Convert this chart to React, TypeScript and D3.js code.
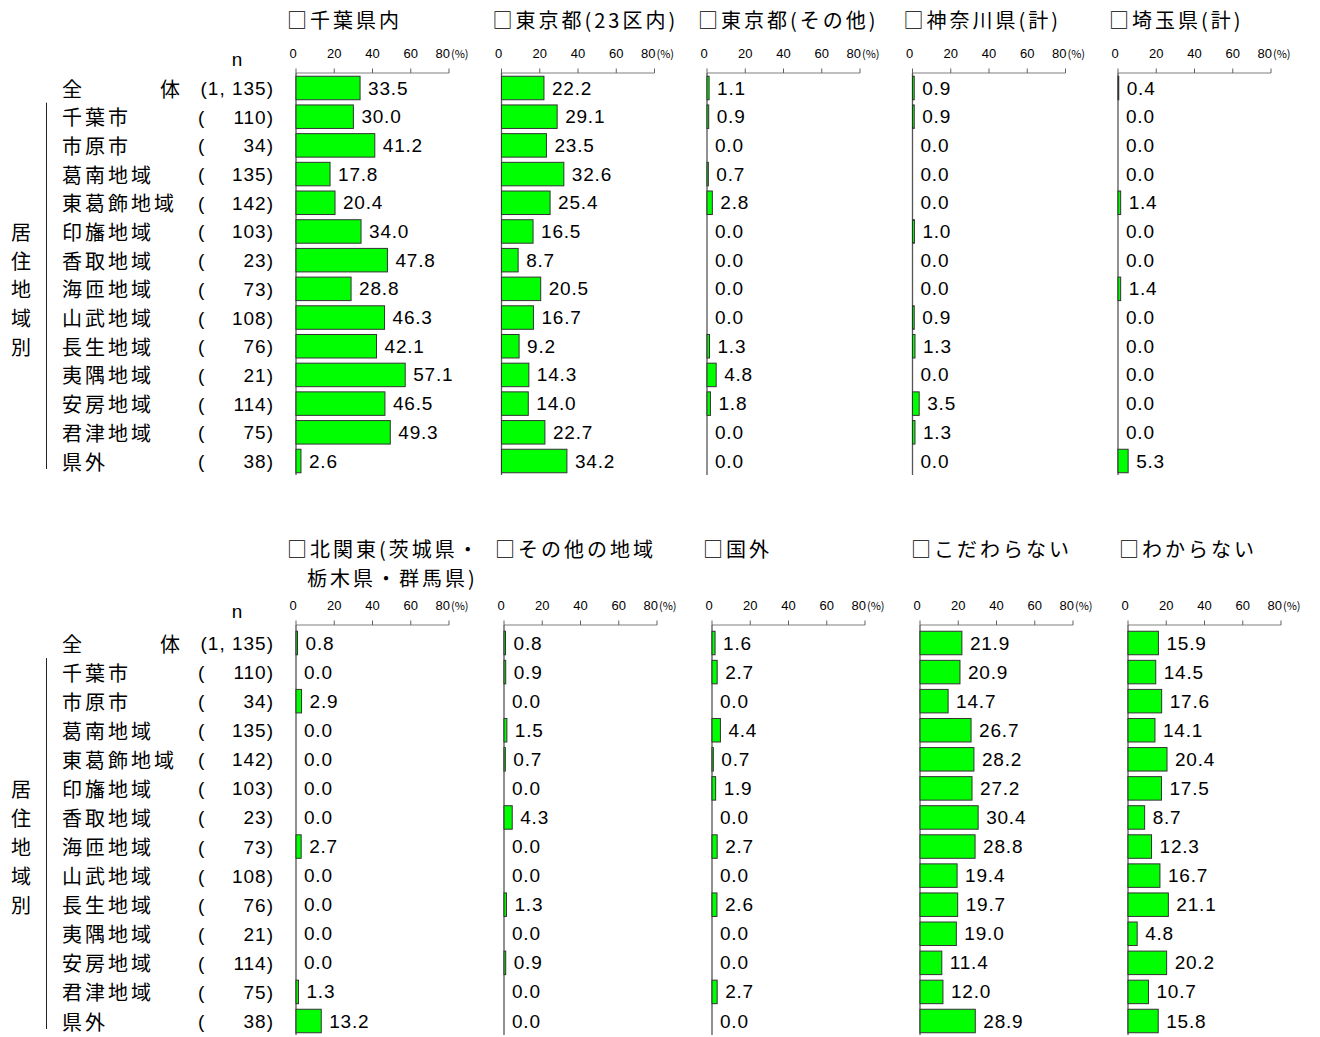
import React from "react";
import * as d3 from "d3";

const categories = ["全体", "千葉市", "市原市", "葛南地域", "東葛飾地域", "印旛地域", "香取地域", "海匝地域", "山武地域", "長生地域", "夷隅地域", "安房地域", "君津地域", "県外"];
const nLabels = ["1, 135", "110", "34", "135", "142", "103", "23", "73", "108", "76", "21", "114", "75", "38"];
const groupLabel = ["居", "住", "地", "域", "別"];
const tickValues = [0, 20, 40, 60, 80];

const topTitles = [["□千葉県内"], ["□東京都(23区内)"], ["□東京都(その他)"], ["□神奈川県(計)"], ["□埼玉県(計)"]];
const bottomTitles = [["□北関東(茨城県・", "栃木県・群馬県)"], ["□その他の地域"], ["□国外"], ["□こだわらない"], ["□わからない"]];

const chibaPref = [33.5, 30.0, 41.2, 17.8, 20.4, 34.0, 47.8, 28.8, 46.3, 42.1, 57.1, 46.5, 49.3, 2.6];
const tokyo23 = [22.2, 29.1, 23.5, 32.6, 25.4, 16.5, 8.7, 20.5, 16.7, 9.2, 14.3, 14.0, 22.7, 34.2];
const tokyoOther = [1.1, 0.9, 0.0, 0.7, 2.8, 0.0, 0.0, 0.0, 0.0, 1.3, 4.8, 1.8, 0.0, 0.0];
const kanagawa = [0.9, 0.9, 0.0, 0.0, 0.0, 1.0, 0.0, 0.0, 0.9, 1.3, 0.0, 3.5, 1.3, 0.0];
const saitama = [0.4, 0.0, 0.0, 0.0, 1.4, 0.0, 0.0, 1.4, 0.0, 0.0, 0.0, 0.0, 0.0, 5.3];
const kitaKanto = [0.8, 0.0, 2.9, 0.0, 0.0, 0.0, 0.0, 2.7, 0.0, 0.0, 0.0, 0.0, 1.3, 13.2];
const otherRegion = [0.8, 0.9, 0.0, 1.5, 0.7, 0.0, 4.3, 0.0, 0.0, 1.3, 0.0, 0.9, 0.0, 0.0];
const abroad = [1.6, 2.7, 0.0, 4.4, 0.7, 1.9, 0.0, 2.7, 0.0, 2.6, 0.0, 0.0, 2.7, 0.0];
const noPreference = [21.9, 20.9, 14.7, 26.7, 28.2, 27.2, 30.4, 28.8, 19.4, 19.7, 19.0, 11.4, 12.0, 28.9];
const unknown = [15.9, 14.5, 17.6, 14.1, 20.4, 17.5, 8.7, 12.3, 16.7, 21.1, 4.8, 20.2, 10.7, 15.8];

const topSeries = [chibaPref, tokyo23, tokyoOther, kanagawa, saitama];
const bottomSeries = [kitaKanto, otherRegion, abroad, noPreference, unknown];

const CJK = "'Noto Sans CJK JP', sans-serif";
const NUM = "'Liberation Sans', Arial, sans-serif";

type PanelProps = {
  titles: string[][];
  series: number[][];
  zero0: number;
  colStep: number;
  firstRow: number;
  lastRow: number;
  axisY: number;
  titleY: number;
};

function Panel({ titles, series, zero0, colStep, firstRow, lastRow, axisY, titleY }: PanelProps) {
  const y = d3.scalePoint<string>().domain(categories).range([firstRow, lastRow]);
  const x = d3.scaleLinear().domain([0, 80]).range([0, 153]);
  const barH = 23.5;
  const lastC = y(categories[categories.length - 1]) as number;
  return (
    <g>
      <text x={237} y={axisY - 7} fontFamily={NUM} fontSize={19} textAnchor="middle">n</text>
      <line x1={46.5} x2={46.5} y1={(y(categories[1]) as number) - 14} y2={lastC + 8} stroke="#222" strokeWidth={1} />
      {groupLabel.map((ch, i) => (
        <text key={ch} x={21} y={y(categories[5 + i]) as number} fontFamily={CJK} fontSize={20} textAnchor="middle" dominantBaseline="central">{ch}</text>
      ))}
      {categories.map((c, i) => {
        const cy = y(c) as number;
        return (
          <g key={c}>
            {i === 0 ? (
              <>
                <text x={62} y={cy} fontFamily={CJK} fontSize={20} dominantBaseline="central">全</text>
                <text x={160} y={cy} fontFamily={CJK} fontSize={20} dominantBaseline="central">体</text>
                <text x={274} y={cy + 7} fontFamily={NUM} fontSize={19} letterSpacing={1} textAnchor="end">({nLabels[i]})</text>
              </>
            ) : (
              <>
                <text x={62} y={cy} fontFamily={CJK} fontSize={20} letterSpacing={3} dominantBaseline="central">{c}</text>
                <text x={198} y={cy + 7} fontFamily={NUM} fontSize={19}>(</text>
                <text x={274} y={cy + 7} fontFamily={NUM} fontSize={19} letterSpacing={1} textAnchor="end">{nLabels[i]})</text>
              </>
            )}
          </g>
        );
      })}
      {series.map((vals, k) => {
        const z = zero0 + colStep * k;
        return (
          <g key={k} transform={`translate(${z},0)`}>
            {titles[k].map((line, li) => (
              <text key={li} x={-9 + (li > 0 ? 20 : 0)} y={titleY + li * 29} fontFamily={CJK} fontSize={20} letterSpacing={3}>{line}</text>
            ))}
            <line x1={x(0)} x2={x(80)} y1={axisY} y2={axisY} stroke="#808080" strokeWidth={1.2} />
            {tickValues.map((t) => (
              <g key={t}>
                <line x1={x(t)} x2={x(t)} y1={axisY - 4.5} y2={axisY} stroke="#606060" strokeWidth={1} />
                {t === 80 ? (
                  <>
                    <text x={x(t) + 1} y={axisY - 15} fontFamily={NUM} fontSize={13} textAnchor="end">{t}</text>
                    <text x={x(t) + 2} y={axisY - 15} fontFamily={CJK} fontSize={11}>(%)</text>
                  </>
                ) : (
                  <text x={x(t) - (t === 0 ? 3 : 0)} y={axisY - 15} fontFamily={NUM} fontSize={13} textAnchor="middle">{t}</text>
                )}
              </g>
            ))}
            <line x1={0} x2={0} y1={axisY} y2={lastC + 14} stroke="#555" strokeWidth={1.3} />
            {vals.map((v, i) => {
              const cy = y(categories[i]) as number;
              return (
                <g key={i}>
                  {v > 0 && (
                    <rect x={x(0)} y={cy - barH / 2} width={x(v)} height={barH} fill="#00ff00" stroke="#333" strokeWidth={1} />
                  )}
                  <text x={x(v) + 8} y={cy + 6.5} fontFamily={NUM} fontSize={19} letterSpacing={0.8}>{v.toFixed(1)}</text>
                </g>
              );
            })}
          </g>
        );
      })}
    </g>
  );
}

export default function App() {
  return (
    <svg width={1320} height={1037} style={{ position: "absolute", left: 0, top: 0, background: "#fff" }}>
      <rect x={0} y={0} width={1320} height={1037} fill="#fff" />
      <Panel titles={topTitles} series={topSeries} zero0={296} colStep={205.5} firstRow={88} lastRow={461} axisY={73} titleY={28} />
      <Panel titles={bottomTitles} series={bottomSeries} zero0={296} colStep={208} firstRow={643} lastRow={1021} axisY={625} titleY={557} />
    </svg>
  );
}
